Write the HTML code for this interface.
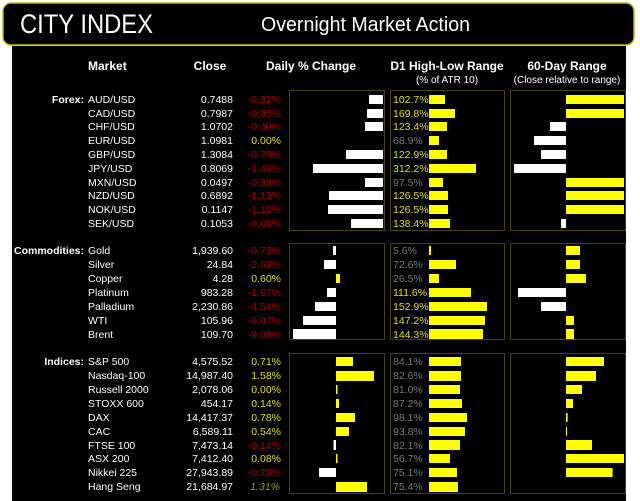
<!DOCTYPE html>
<html><head><meta charset="utf-8"><style>
html,body{margin:0;padding:0;background:#fff;width:640px;height:501px;overflow:hidden}
svg{display:block}
text{font-family:"Liberation Sans",sans-serif}
.t{font-size:10.5px;fill:#fff}
.h{font-size:12px;font-weight:bold;fill:#fff}
.s{font-size:10px;fill:#fff}
.r{fill:#b00000;font-size:10.5px}
.y{fill:#e0e000;font-size:10.5px}
.g{fill:#7a7a7a;font-size:10.5px}
</style></head><body>
<svg width="640" height="501" viewBox="0 0 640 501">
<rect x="12" y="46" width="614" height="455" fill="#000"/>
<rect x="3" y="3" width="631" height="42" rx="8" fill="#000" stroke="#c8b400" stroke-width="1.5"/>
<text x="20" y="33" font-size="27" fill="#fff" textLength="133" lengthAdjust="spacingAndGlyphs">CITY INDEX</text>
<text x="261" y="31" font-size="20" fill="#fff" textLength="209" lengthAdjust="spacingAndGlyphs">Overnight Market Action</text>
<text class="h" x="88" y="70">Market</text>
<text class="h" x="210" y="70" text-anchor="middle">Close</text>
<text class="h" x="311" y="70" text-anchor="middle">Daily % Change</text>
<text class="h" x="447" y="70" text-anchor="middle">D1 High-Low Range</text>
<text class="h" x="567" y="70" text-anchor="middle">60-Day Range</text>
<text class="s" x="447" y="83" text-anchor="middle">(% of ATR 10)</text>
<text class="s" x="567" y="83" text-anchor="middle">(Close relative to range)</text>
<g fill="none" stroke="#4a4400" stroke-width="1">
<rect x="289.5" y="90.5" width="95" height="140"/><rect x="390.5" y="90.5" width="114" height="140"/><rect x="510.5" y="90.5" width="115" height="140"/>
<rect x="289.5" y="243.5" width="95" height="96"/><rect x="390.5" y="243.5" width="114" height="96"/><rect x="510.5" y="243.5" width="115" height="96"/>
<rect x="289.5" y="353.5" width="95" height="140"/><rect x="390.5" y="353.5" width="114" height="140"/><rect x="510.5" y="353.5" width="115" height="140"/>
</g>
<g text-anchor="end">
<text x="84" y="103" class="t" font-weight="bold">Forex:</text>
<text x="84" y="254" class="t" font-weight="bold" textLength="70" lengthAdjust="spacingAndGlyphs">Commodities:</text>
<text x="84" y="365" class="t" font-weight="bold">Indices:</text>
</g>
<!-- FOREX -->
<g class="t">
<text x="88" y="103">AUD/USD</text><text x="88" y="117">CAD/USD</text><text x="88" y="130">CHF/USD</text><text x="88" y="144">EUR/USD</text><text x="88" y="158">GBP/USD</text><text x="88" y="172">JPY/USD</text><text x="88" y="186">MXN/USD</text><text x="88" y="199">NZD/USD</text><text x="88" y="213">NOK/USD</text><text x="88" y="227">SEK/USD</text>
</g>
<g class="t" text-anchor="end">
<text x="233" y="103">0.7488</text><text x="233" y="117">0.7987</text><text x="233" y="130">1.0702</text><text x="233" y="144">1.0981</text><text x="233" y="158">1.3084</text><text x="233" y="172">0.8069</text><text x="233" y="186">0.0497</text><text x="233" y="199">0.6892</text><text x="233" y="213">0.1147</text><text x="233" y="227">0.1053</text>
</g>
<g text-anchor="end">
<text class="r" x="281" y="103">-0.32%</text><text class="r" x="281" y="117">-0.35%</text><text class="r" x="281" y="130">-0.40%</text><text class="y" x="281" y="144">0.00%</text><text class="r" x="281" y="158">-0.79%</text><text class="r" x="281" y="172">-1.49%</text><text class="r" x="281" y="186">-0.38%</text><text class="r" x="281" y="199">-1.13%</text><text class="r" x="281" y="213">-1.15%</text><text class="r" x="281" y="227">-0.66%</text>
</g>
<g fill="#fff">
<rect x="369" y="95" width="14" height="9"/><rect x="367" y="109" width="16" height="9"/><rect x="365" y="122" width="18" height="9"/><rect x="346" y="150" width="37" height="9"/><rect x="313" y="164" width="70" height="9"/><rect x="365" y="178" width="18" height="9"/><rect x="329" y="191" width="54" height="9"/><rect x="328" y="205" width="55" height="9"/><rect x="351" y="219" width="32" height="9"/>
</g>
<text class="y" x="393" y="103">102.7%</text><text class="y" x="393" y="117">169.8%</text><text class="y" x="393" y="130">123.4%</text><text class="g" x="393" y="144">68.9%</text><text class="y" x="393" y="158">122.9%</text><text class="y" x="393" y="172">312.2%</text><text class="g" x="393" y="186">97.5%</text><text class="y" x="393" y="199">126.5%</text><text class="y" x="393" y="213">126.5%</text><text class="y" x="393" y="227">138.4%</text>
<g fill="#ffff00">
<rect x="429" y="95" width="16" height="9"/><rect x="429" y="109" width="26" height="9"/><rect x="429" y="122" width="18" height="9"/><rect x="429" y="136" width="10" height="9"/><rect x="429" y="150" width="18" height="9"/><rect x="429" y="164" width="47" height="9"/><rect x="429" y="178" width="14" height="9"/><rect x="429" y="191" width="19" height="9"/><rect x="429" y="205" width="19" height="9"/><rect x="429" y="219" width="21" height="9"/>
<rect x="566" y="95" width="58" height="9"/><rect x="566" y="109" width="58" height="9"/><rect x="566" y="178" width="58" height="9"/><rect x="566" y="191" width="58" height="9"/><rect x="566" y="205" width="58" height="9"/>
</g>
<g fill="#fff">
<rect x="550" y="122" width="16" height="9"/><rect x="534" y="136" width="32" height="9"/><rect x="541" y="150" width="25" height="9"/><rect x="514" y="164" width="52" height="9"/><rect x="561" y="219" width="5" height="9"/>
</g>
<!-- COMMODITIES -->
<g class="t">
<text x="88" y="254">Gold</text><text x="88" y="268">Silver</text><text x="88" y="282">Copper</text><text x="88" y="296">Platinum</text><text x="88" y="310">Palladium</text><text x="88" y="324">WTI</text><text x="88" y="338">Brent</text>
</g>
<g class="t" text-anchor="end">
<text x="233" y="254">1,939.60</text><text x="233" y="268">24.84</text><text x="233" y="282">4.28</text><text x="233" y="296">983.28</text><text x="233" y="310">2,230.86</text><text x="233" y="324">105.96</text><text x="233" y="338">109.70</text>
</g>
<g text-anchor="end">
<text class="r" x="281" y="254">-0.73%</text><text class="r" x="281" y="268">-2.63%</text><text class="y" x="281" y="282">0.60%</text><text class="r" x="281" y="296">-1.87%</text><text class="r" x="281" y="310">-4.54%</text><text class="r" x="281" y="324">-6.97%</text><text class="r" x="281" y="338">-9.08%</text>
</g>
<g fill="#fff">
<rect x="333" y="246" width="3" height="9"/><rect x="324" y="260" width="12" height="9"/><rect x="327" y="288" width="9" height="9"/><rect x="315" y="302" width="21" height="9"/><rect x="303" y="316" width="33" height="9"/><rect x="293" y="329" width="43" height="10"/>
<rect x="518" y="288" width="48" height="9"/><rect x="541" y="302" width="25" height="9"/>
</g>
<text class="g" x="393" y="254">5.6%</text><text class="g" x="393" y="268">72.6%</text><text class="g" x="393" y="282">26.5%</text><text class="y" x="393" y="296">111.6%</text><text class="y" x="393" y="310">152.9%</text><text class="y" x="393" y="324">147.2%</text><text class="y" x="393" y="338">144.3%</text>
<g fill="#ffff00">
<rect x="336" y="274" width="4" height="9"/>
<rect x="429" y="246" width="2" height="9"/><rect x="429" y="260" width="27" height="9"/><rect x="429" y="274" width="10" height="9"/><rect x="429" y="288" width="42" height="9"/><rect x="429" y="302" width="58" height="9"/><rect x="429" y="316" width="56" height="9"/><rect x="429" y="329" width="54" height="10"/>
<rect x="566" y="246" width="14" height="9"/><rect x="566" y="260" width="14" height="9"/><rect x="566" y="274" width="20" height="9"/><rect x="566" y="316" width="8" height="9"/><rect x="566" y="329" width="8" height="10"/>
</g>
<!-- INDICES -->
<g class="t">
<text x="88" y="365">S&amp;P 500</text><text x="88" y="379">Nasdaq-100</text><text x="88" y="393">Russell 2000</text><text x="88" y="407">STOXX 600</text><text x="88" y="421">DAX</text><text x="88" y="435">CAC</text><text x="88" y="449">FTSE 100</text><text x="88" y="462">ASX 200</text><text x="88" y="476">Nikkei 225</text><text x="88" y="490">Hang Seng</text>
</g>
<g class="t" text-anchor="end">
<text x="233" y="365">4,575.52</text><text x="233" y="379">14,987.40</text><text x="233" y="393">2,078.06</text><text x="233" y="407">454.17</text><text x="233" y="421">14,417.37</text><text x="233" y="435">6,589.11</text><text x="233" y="449">7,473.14</text><text x="233" y="462">7,412.40</text><text x="233" y="476">27,943.89</text><text x="233" y="490">21,684.97</text>
</g>
<g text-anchor="end">
<text class="y" x="281" y="365">0.71%</text><text class="y" x="281" y="379">1.58%</text><text class="y" x="281" y="393">0.00%</text><text class="y" x="281" y="407">0.14%</text><text class="y" x="281" y="421">0.78%</text><text class="y" x="281" y="435">0.54%</text><text class="r" x="281" y="449">-0.14%</text><text class="y" x="281" y="462">0.08%</text><text class="r" x="281" y="476">-0.73%</text><text x="280" y="490" font-size="10.5" font-style="italic" fill="#9a9a00">1.31%</text>
</g>
<g fill="#ffff00">
<rect x="336" y="357" width="17" height="9"/><rect x="336" y="371" width="38" height="10"/><rect x="336" y="385" width="1.5" height="9"/><rect x="336" y="399" width="3" height="9"/><rect x="336" y="413" width="19" height="9"/><rect x="336" y="427" width="13" height="9"/><rect x="336" y="454" width="1.5" height="9"/><rect x="336" y="482" width="31" height="10"/>
<rect x="429" y="357" width="32" height="9"/><rect x="429" y="371" width="32" height="10"/><rect x="429" y="385" width="31" height="9"/><rect x="429" y="399" width="33" height="9"/><rect x="429" y="413" width="38" height="9"/><rect x="429" y="427" width="36" height="9"/><rect x="429" y="440" width="31" height="10"/><rect x="429" y="454" width="21" height="9"/><rect x="429" y="468" width="28" height="9"/><rect x="429" y="482" width="29" height="10"/>
<rect x="566" y="357" width="38" height="9"/><rect x="566" y="371" width="30" height="10"/><rect x="566" y="385" width="16" height="9"/><rect x="566" y="399" width="7" height="9"/><rect x="566" y="413" width="1.6" height="9"/><rect x="566" y="427" width="1" height="9"/><rect x="566" y="440" width="26" height="10"/><rect x="566" y="454" width="58" height="9"/><rect x="566" y="468" width="46.6" height="9"/>
</g>
<g fill="#fff">
<rect x="333.5" y="440" width="2.5" height="10"/><rect x="319" y="468" width="17" height="9"/>
</g>
<text class="g" x="393" y="365">84.1%</text><text class="g" x="393" y="379">82.6%</text><text class="g" x="393" y="393">81.0%</text><text class="g" x="393" y="407">87.2%</text><text class="g" x="393" y="421">98.1%</text><text class="g" x="393" y="435">93.8%</text><text class="g" x="393" y="449">82.1%</text><text class="g" x="393" y="462">56.7%</text><text class="g" x="393" y="476">75.1%</text><text class="g" x="393" y="490">75.4%</text>
</svg>
</body></html>
